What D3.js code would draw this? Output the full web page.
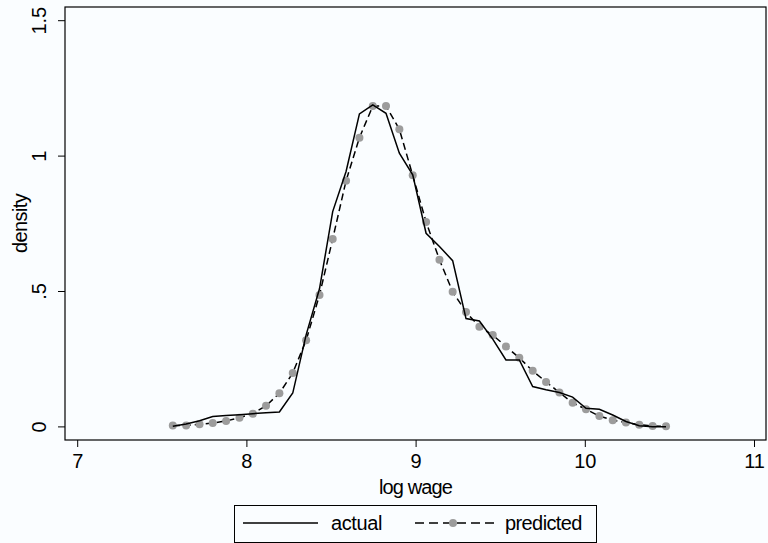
<!DOCTYPE html>
<html>
<head>
<meta charset="utf-8">
<script src="https://cdn.jsdelivr.net/npm/d3@7"></script>
<style>
  body { margin: 0; background: #fafdff; }
  svg { display: block; font-family: "Liberation Sans", Arial, sans-serif; }
</style>
</head>
<body>
<svg id="chart" width="768" height="543"></svg>
<script>
// grid of log wage points (both curves share it)
var logWage = [7.565, 7.644, 7.723, 7.801, 7.880, 7.959, 8.038, 8.116, 8.195, 8.274,
  8.353, 8.432, 8.510, 8.589, 8.668, 8.747, 8.825, 8.904, 8.983, 9.062,
  9.141, 9.219, 9.298, 9.377, 9.456, 9.534, 9.613, 9.692, 9.771, 9.850,
  9.928, 10.007, 10.086, 10.165, 10.243, 10.322, 10.401, 10.480];

var actual = [0.002, 0.011, 0.023, 0.038, 0.042, 0.045, 0.049, 0.052, 0.055, 0.125,
  0.340, 0.510, 0.795, 0.943, 1.156, 1.189, 1.158, 1.011, 0.931, 0.715,
  0.666, 0.614, 0.400, 0.391, 0.324, 0.247, 0.247, 0.149, 0.137, 0.127,
  0.110, 0.069, 0.065, 0.044, 0.020, 0.004, 0.001, 0.001];

var predicted = [0.005, 0.005, 0.010, 0.014, 0.022, 0.034, 0.049, 0.078, 0.124, 0.199,
  0.320, 0.487, 0.694, 0.909, 1.068, 1.185, 1.185, 1.099, 0.929, 0.757,
  0.617, 0.499, 0.424, 0.370, 0.339, 0.297, 0.255, 0.207, 0.166, 0.127,
  0.089, 0.065, 0.040, 0.025, 0.016, 0.008, 0.003, 0.002];

var xTicks = [7, 8, 9, 10, 11];
var yTicks = [0, 0.5, 1, 1.5];
var yTickLabels = ["0", ".5", "1", "1.5"];

const svg = d3.select("#chart");
const fs = 20;

// plot region box
const box = { left: 65, right: 766, top: 7, bottom: 440 };

const x = d3.scaleLinear().domain([7, 11]).range([77.2, 754]);
const y = d3.scaleLinear().domain([0, 1.5]).range([426.9, 20.7]);

svg.append("rect")
  .attr("x", box.left).attr("y", box.top)
  .attr("width", box.right - box.left).attr("height", box.bottom - box.top)
  .attr("fill", "none").attr("stroke", "#000").attr("stroke-width", 1.2);

// y axis, labels rotated like Stata
const yAxis = svg.append("g")
  .attr("transform", "translate(" + box.left + ",0)")
  .call(d3.axisLeft(y).tickValues(yTicks).tickSize(7).tickFormat((d, i) => yTickLabels[i]));
yAxis.select(".domain").remove();
yAxis.selectAll(".tick").attr("transform", null);
yAxis.selectAll(".tick line").attr("y1", d => y(d)).attr("y2", d => y(d)).attr("stroke", "#000");
yAxis.selectAll("text")
  .attr("font-size", fs).attr("font-family", "Liberation Sans, Arial, sans-serif")
  .attr("fill", "#000").attr("text-anchor", "middle")
  .attr("x", 0).attr("y", 0).attr("dy", "0.35em")
  .attr("transform", d => "translate(-26," + y(d) + ") rotate(-90)");

// x axis
const xAxis = svg.append("g")
  .attr("transform", "translate(0," + box.bottom + ")")
  .call(d3.axisBottom(x).tickValues(xTicks).tickSize(7).tickFormat(d3.format("d")));
xAxis.select(".domain").remove();
xAxis.selectAll(".tick line").attr("stroke", "#000");
xAxis.selectAll("text")
  .attr("font-size", fs).attr("font-family", "Liberation Sans, Arial, sans-serif")
  .attr("fill", "#000").attr("y", 14);

// axis titles
svg.append("text")
  .attr("x", (box.left + box.right) / 2).attr("y", 494)
  .attr("text-anchor", "middle").attr("font-size", fs).attr("letter-spacing", -0.9)
  .text("log wage");

svg.append("text")
  .attr("transform", "translate(27," + ((box.top + box.bottom) / 2) + ") rotate(-90)")
  .attr("text-anchor", "middle").attr("font-size", fs).attr("letter-spacing", -0.6)
  .text("density");

// curves
const pts = (vals) => logWage.map((d, i) => [d, vals[i]]);
const line = d3.line().x(d => x(d[0])).y(d => y(d[1]));

svg.append("path")
  .attr("d", line(pts(predicted)))
  .attr("fill", "none").attr("stroke", "#000").attr("stroke-width", 1.5)
  .attr("stroke-dasharray", "7,4");

svg.append("g").selectAll("circle")
  .data(pts(predicted))
  .enter().append("circle")
    .attr("cx", d => x(d[0])).attr("cy", d => y(d[1]))
    .attr("r", 4).attr("fill", "#9c9c9c");

svg.append("path")
  .attr("d", line(pts(actual)))
  .attr("fill", "none").attr("stroke", "#000").attr("stroke-width", 1.5);

// legend
const lg = svg.append("g");
lg.append("rect")
  .attr("x", 234.5).attr("y", 505.5).attr("width", 362).attr("height", 37)
  .attr("fill", "#fafdff").attr("stroke", "#000").attr("stroke-width", 1);
lg.append("line")
  .attr("x1", 243).attr("x2", 318).attr("y1", 523).attr("y2", 523)
  .attr("stroke", "#000").attr("stroke-width", 1.5);
lg.append("text")
  .attr("x", 331).attr("y", 530).attr("font-size", fs).attr("letter-spacing", -0.4)
  .text("actual");
lg.append("line")
  .attr("x1", 415).attr("x2", 497).attr("y1", 523).attr("y2", 523)
  .attr("stroke", "#000").attr("stroke-width", 1.5).attr("stroke-dasharray", "9,5");
lg.append("circle")
  .attr("cx", 453).attr("cy", 523).attr("r", 4).attr("fill", "#9c9c9c");
lg.append("text")
  .attr("x", 505).attr("y", 530).attr("font-size", fs).attr("letter-spacing", -0.6)
  .text("predicted");
</script>
</body>
</html>
